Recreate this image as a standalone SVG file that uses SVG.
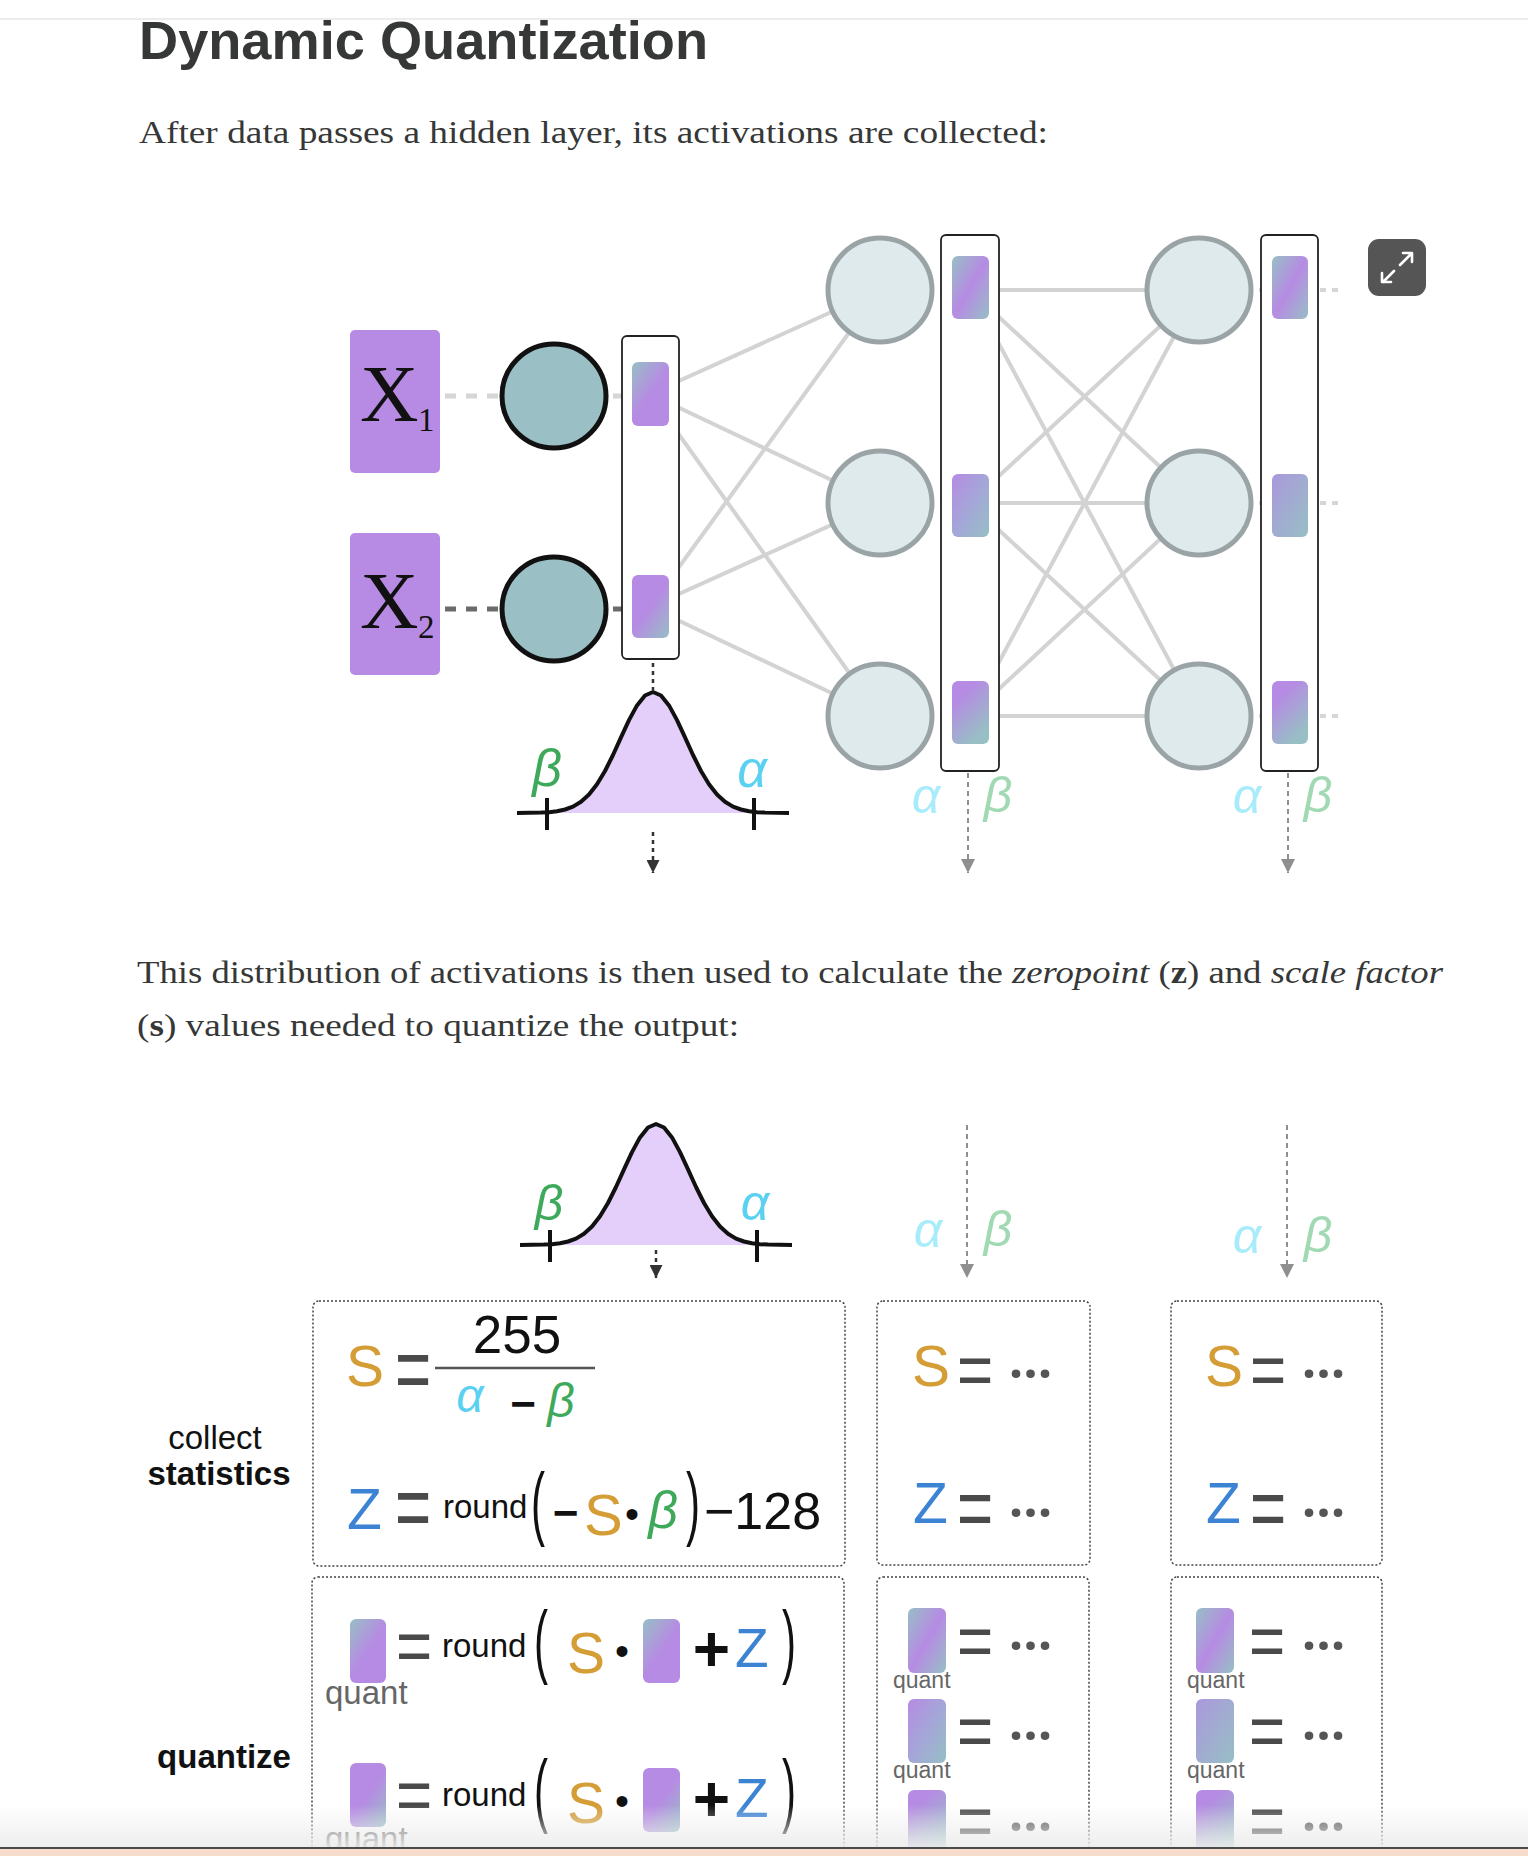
<svg xmlns="http://www.w3.org/2000/svg" width="1528" height="1856" viewBox="0 0 1528 1856">
<style>
.sans{font-family:"Liberation Sans",Arial,sans-serif}
.para{font-family:"Liberation Serif","Times New Roman",serif;font-size:31px;fill:#363737}
.conn{stroke:#d3d3d3;stroke-width:4;fill:none}
.dl{stroke:#d6d6d6;stroke-width:5;stroke-dasharray:11 10;fill:none}
.dd{stroke:#6b6b6b;stroke-width:5;stroke-dasharray:11 10;fill:none}
.ds{stroke:#d6d6d6;stroke-width:4;stroke-dasharray:6 6;fill:none}
.c1{fill:#9abfc4;stroke:#111;stroke-width:5}
.c2{fill:#dfeaec;stroke:#9aa4a6;stroke-width:5}
.col{fill:#fff;stroke:#222;stroke-width:1.8}
.xbox{fill:#b78be3}
.xt{font-family:"Liberation Serif","Times New Roman",serif;fill:#111}
.box{fill:none;stroke:#444;stroke-width:1.5;stroke-dasharray:2 2}
.S{fill:#d49d36;font-family:"Liberation Sans",Arial,sans-serif}
.Z{fill:#3d83d3;font-family:"Liberation Sans",Arial,sans-serif}
.gr{font-family:"Liberation Sans",Arial,sans-serif;font-style:italic}
.al{fill:#5bd1f2}
.be{fill:#3ea95b}
.al2{fill:#a8ecfb}
.be2{fill:#a0d9b2}
.eq{fill:#4a4a4a;font-family:"Liberation Sans",Arial,sans-serif;font-size:62px}
.dots{fill:#555;font-weight:bold;font-family:"Noto Sans","Liberation Sans",sans-serif;font-size:50px;letter-spacing:0.5px}
.blk{fill:#111;font-family:"Liberation Sans",Arial,sans-serif}
.par{fill:#111;font-family:"Liberation Sans",Arial,sans-serif;font-size:42px}
.q{fill:#666;font-family:"Liberation Sans",Arial,sans-serif}
.lbl{fill:#111;font-family:"Liberation Sans",Arial,sans-serif;font-size:33px;text-anchor:middle}
.arr{stroke:#333;stroke-width:2.5;stroke-dasharray:4 4;fill:none}
.arrg{stroke:#8f8f8f;stroke-width:2;stroke-dasharray:5 4;fill:none}
</style>
<defs>
<linearGradient id="gTP" x1="0" y1="0" x2="0.45" y2="0.55"><stop offset="0" stop-color="#97bfc5"/><stop offset="1" stop-color="#b68be3"/></linearGradient>
<linearGradient id="gPT" x1="0.55" y1="0.45" x2="1" y2="1"><stop offset="0" stop-color="#b68be3"/><stop offset="1" stop-color="#97bfc5"/></linearGradient>
<linearGradient id="gTPT" x1="0" y1="0" x2="1" y2="1"><stop offset="0" stop-color="#97bfc5"/><stop offset="0.5" stop-color="#b68be3"/><stop offset="1" stop-color="#97bfc5"/></linearGradient>
<linearGradient id="gPT2" x1="0" y1="0" x2="1" y2="1"><stop offset="0" stop-color="#b68be3"/><stop offset="0.5" stop-color="#a4a6d8"/><stop offset="1" stop-color="#97bfc5"/></linearGradient>
<linearGradient id="gLT" x1="0" y1="0" x2="1" y2="1"><stop offset="0" stop-color="#ab98dc"/><stop offset="1" stop-color="#97bfc5"/></linearGradient>
<linearGradient id="gPTv" x1="0.3" y1="0.2" x2="0.7" y2="0.9"><stop offset="0" stop-color="#b68be3"/><stop offset="1" stop-color="#97bfc5"/></linearGradient>
<linearGradient id="fade" x1="0" y1="0" x2="0" y2="1"><stop offset="0" stop-color="#ececec" stop-opacity="0"/><stop offset="1" stop-color="#ececec" stop-opacity="0.9"/></linearGradient>
<marker id="mk" viewBox="0 0 10 10" refX="10" refY="5" markerWidth="13" markerHeight="13" markerUnits="userSpaceOnUse" orient="auto"><path d="M0,0 L10,5 L0,10 z" fill="#333"/></marker>
<marker id="mkg" viewBox="0 0 10 10" refX="10" refY="5" markerWidth="14" markerHeight="14" markerUnits="userSpaceOnUse" orient="auto"><path d="M0,0 L10,5 L0,10 z" fill="#8f8f8f"/></marker>
<g id="bell">
<path d="M-108,121 L-104,120.2 L-96,119.2 L-88,117.5 L-80,114.6 L-72,109.8 L-64,102.6 L-56,92.3 L-48,79 L-40,63 L-32,45.4 L-24,28.1 L-16,13.4 L-8,3.5 L0,0 L8,3.5 L16,13.4 L24,28.1 L32,45.4 L40,63 L48,79 L56,92.3 L64,102.6 L72,109.8 L80,114.6 L88,117.5 L96,119.2 L104,120.2 L108,121 Z" fill="#e3cff9"/>
<path d="M-136,121 L-112,120.6 L-104,120.2 L-96,119.2 L-88,117.5 L-80,114.6 L-72,109.8 L-64,102.6 L-56,92.3 L-48,79 L-40,63 L-32,45.4 L-24,28.1 L-16,13.4 L-8,3.5 L0,0 L8,3.5 L16,13.4 L24,28.1 L32,45.4 L40,63 L48,79 L56,92.3 L64,102.6 L72,109.8 L80,114.6 L88,117.5 L96,119.2 L104,120.2 L112,120.6 L136,121" fill="none" stroke="#111" stroke-width="4" stroke-linejoin="round"/>
<path d="M-106,106 V138 M101,106 V138" stroke="#111" stroke-width="4"/>
</g>
</defs>
<rect width="1528" height="1856" fill="#fff"/>
<line x1="0" y1="19" x2="1528" y2="19" stroke="#e6e6e6" stroke-width="1.5"/>
<text class="sans" x="139" y="59" font-size="53" font-weight="bold" fill="#363737" textLength="569" lengthAdjust="spacingAndGlyphs">Dynamic Quantization</text>
<text class="para" x="139" y="143" textLength="909" lengthAdjust="spacingAndGlyphs">After data passes a hidden layer, its activations are collected:</text>

<g id="connectors">
<line class="dl" x1="445" y1="396" x2="622" y2="396"/>
<line class="dd" x1="445" y1="609" x2="622" y2="609"/>
<line class="conn" x1="650" y1="394" x2="880" y2="290"/>
<line class="conn" x1="650" y1="394" x2="880" y2="503"/>
<line class="conn" x1="650" y1="394" x2="880" y2="716"/>
<line class="conn" x1="650" y1="607" x2="880" y2="290"/>
<line class="conn" x1="650" y1="607" x2="880" y2="503"/>
<line class="conn" x1="650" y1="607" x2="880" y2="716"/>
<line class="conn" x1="970" y1="290" x2="1199" y2="290"/>
<line class="conn" x1="970" y1="290" x2="1199" y2="503"/>
<line class="conn" x1="970" y1="290" x2="1199" y2="716"/>
<line class="conn" x1="970" y1="503" x2="1199" y2="290"/>
<line class="conn" x1="970" y1="503" x2="1199" y2="503"/>
<line class="conn" x1="970" y1="503" x2="1199" y2="716"/>
<line class="conn" x1="970" y1="716" x2="1199" y2="290"/>
<line class="conn" x1="970" y1="716" x2="1199" y2="503"/>
<line class="conn" x1="970" y1="716" x2="1199" y2="716"/>
<path class="ds" d="M880,290 H942 M880,503 H942 M880,716 H942 M1199,290 H1262 M1199,503 H1262 M1199,716 H1262 M1320,290 H1344 M1320,503 H1344 M1320,716 H1344"/>
<line class="arr" x1="653" y1="663" x2="653" y2="690"/>
<line class="arr" x1="653" y1="832" x2="653" y2="873" marker-end="url(#mk)"/>
<line class="arrg" x1="968" y1="773" x2="968" y2="873" marker-end="url(#mkg)"/>
<line class="arrg" x1="1288" y1="773" x2="1288" y2="873" marker-end="url(#mkg)"/>
<line class="arr" x1="656" y1="1250" x2="656" y2="1278" marker-end="url(#mk)"/>
<line class="arrg" x1="967" y1="1125" x2="967" y2="1278" marker-end="url(#mkg)"/>
<line class="arrg" x1="1287" y1="1125" x2="1287" y2="1278" marker-end="url(#mkg)"/>
</g>

<g id="input-x1">
<rect class="xbox" x="350" y="330" width="90" height="143" rx="5"/>
<text class="xt" x="360" y="421" font-size="81">X</text>
<text class="xt" x="418" y="431" font-size="33">1</text>
</g>
<g id="input-x2">
<rect class="xbox" x="350" y="533" width="90" height="142" rx="5"/>
<text class="xt" x="360" y="628" font-size="81">X</text>
<text class="xt" x="418" y="638" font-size="33">2</text>
</g>
<g id="node-l1-1"><circle class="c1" cx="554" cy="396" r="52"/></g>
<g id="node-l1-2"><circle class="c1" cx="554" cy="609" r="52"/></g>
<g id="act-l1">
<rect class="col" x="622" y="336" width="57" height="323" rx="5"/>
<rect x="632" y="362" width="37" height="64" rx="6" fill="url(#gTP)"/>
<rect x="632" y="575" width="37" height="63" rx="6" fill="url(#gPT)"/>
</g>
<g id="node-l2-1"><circle class="c2" cx="880" cy="290" r="52"/></g>
<g id="node-l2-2"><circle class="c2" cx="880" cy="503" r="52"/></g>
<g id="node-l2-3"><circle class="c2" cx="880" cy="716" r="52"/></g>
<g id="act-l2">
<rect class="col" x="941" y="235" width="58" height="536" rx="5"/>
<rect x="952" y="256" width="37" height="63" rx="6" fill="url(#gTPT)"/>
<rect x="952" y="474" width="37" height="63" rx="6" fill="url(#gPT2)"/>
<rect x="952" y="681" width="37" height="63" rx="6" fill="url(#gPTv)"/>
</g>
<g id="node-l3-1"><circle class="c2" cx="1199" cy="290" r="52"/></g>
<g id="node-l3-2"><circle class="c2" cx="1199" cy="503" r="52"/></g>
<g id="node-l3-3"><circle class="c2" cx="1199" cy="716" r="52"/></g>
<g id="act-l3">
<rect class="col" x="1261" y="235" width="57" height="536" rx="5"/>
<rect x="1272" y="256" width="36" height="63" rx="6" fill="url(#gTPT)"/>
<rect x="1272" y="474" width="36" height="63" rx="6" fill="url(#gLT)"/>
<rect x="1272" y="681" width="36" height="63" rx="6" fill="url(#gPTv)"/>
</g>
<g id="expand-button">
<rect x="1368" y="239" width="58" height="57" rx="11" fill="#555"/>
<path d="M1400,265 L1411,254 M1403,253 H1412 V262 M1394,271 L1383,282 M1382,273 V282 H1391" stroke="#fff" stroke-width="2.6" fill="none" stroke-linecap="round" stroke-linejoin="round"/>
</g>

<g id="dist-1">
<use href="#bell" transform="translate(653,692)"/>
<text class="gr be" x="547" y="786" font-size="52" text-anchor="middle">β</text>
<text class="gr al" x="752" y="787" font-size="52" text-anchor="middle">α</text>
</g>
<g id="range-l2">
<text class="gr al2" x="926" y="813" font-size="50" text-anchor="middle">α</text>
<text class="gr be2" x="998" y="812" font-size="50" text-anchor="middle">β</text>
</g>
<g id="range-l3">
<text class="gr al2" x="1247" y="813" font-size="50" text-anchor="middle">α</text>
<text class="gr be2" x="1318" y="812" font-size="50" text-anchor="middle">β</text>
</g>

<text class="para" x="137" y="983" textLength="1306" lengthAdjust="spacingAndGlyphs">This distribution of activations is then used to calculate the <tspan font-style="italic">zeropoint</tspan> (<tspan font-weight="bold">z</tspan>) and <tspan font-style="italic">scale factor</tspan></text>
<text class="para" x="137" y="1036" textLength="602" lengthAdjust="spacingAndGlyphs">(<tspan font-weight="bold">s</tspan>) values needed to quantize the output:</text>

<g id="dist-2">
<use href="#bell" transform="translate(656,1124)"/>
<text class="gr be" x="549" y="1220" font-size="50" text-anchor="middle">β</text>
<text class="gr al" x="755" y="1220" font-size="50" text-anchor="middle">α</text>
</g>
<g id="range2-l2">
<text class="gr al2" x="928" y="1247" font-size="50" text-anchor="middle">α</text>
<text class="gr be2" x="998" y="1246" font-size="50" text-anchor="middle">β</text>
</g>
<g id="range2-l3">
<text class="gr al2" x="1247" y="1253" font-size="50" text-anchor="middle">α</text>
<text class="gr be2" x="1318" y="1252" font-size="50" text-anchor="middle">β</text>
</g>

<g id="label-collect">
<text class="lbl" x="215" y="1449">collect</text>
<text class="lbl" x="219" y="1485" font-weight="bold">statistics</text>
</g>
<g id="label-quantize">
<text class="lbl" x="224" y="1768" font-weight="bold">quantize</text>
</g>

<g id="stats-l1">
<rect class="box" x="313" y="1301" width="532" height="265" rx="6"/>
<text class="S" x="346" y="1386" font-size="57">S</text>
<text class="eq" transform="translate(395,1401) scale(1,1.5)">=</text>
<line x1="435" y1="1368" x2="595" y2="1368" stroke="#555" stroke-width="2.5"/>
<text class="blk" x="517" y="1353" font-size="53" text-anchor="middle">255</text>
<text class="gr al" x="470" y="1412" font-size="48" text-anchor="middle">α</text>
<text class="blk" x="523" y="1419" font-size="44" font-weight="bold" text-anchor="middle">−</text>
<text class="gr be" x="561" y="1417" font-size="48" text-anchor="middle">β</text>
<text class="Z" x="347" y="1529" font-size="57">Z</text>
<text class="eq" transform="translate(395,1539) scale(1,1.5)">=</text>
<text class="blk" x="443" y="1518" font-size="33">round</text>
<text class="par" transform="translate(531,1530) scale(1,1.95)">(</text>
<text class="blk" x="565.5" y="1528" font-size="44" font-weight="bold" text-anchor="middle">−</text>
<text class="S" x="584" y="1535" font-size="58">S</text>
<text class="blk" x="632" y="1528" font-size="40" text-anchor="middle">•</text>
<text class="gr be" x="663" y="1528" font-size="52" text-anchor="middle">β</text>
<text class="par" transform="translate(686,1530) scale(1,1.95)">)</text>
<text class="blk" x="704" y="1529" font-size="52">−128</text>
</g>
<g id="stats-l2">
<rect class="box" x="877" y="1301" width="213" height="264" rx="6"/>
<text class="S" x="912" y="1386" font-size="57">S</text>
<text class="eq" transform="translate(957,1396) scale(1,1.22)">=</text>
<text class="dots" x="1009" y="1392">···</text>
<text class="Z" x="913" y="1523" font-size="57">Z</text>
<text class="eq" transform="translate(957,1538) scale(1,1.4)">=</text>
<text class="dots" x="1009" y="1531">···</text>
</g>
<g id="stats-l3">
<rect class="box" x="1171" y="1301" width="211" height="264" rx="6"/>
<text class="S" x="1205" y="1386" font-size="57">S</text>
<text class="eq" transform="translate(1250,1396) scale(1,1.22)">=</text>
<text class="dots" x="1302" y="1392">···</text>
<text class="Z" x="1206" y="1523" font-size="57">Z</text>
<text class="eq" transform="translate(1250,1538) scale(1,1.4)">=</text>
<text class="dots" x="1302" y="1531">···</text>
</g>

<g id="quant-l1">
<rect class="box" x="312" y="1577" width="532" height="330" rx="6"/>
<rect x="350" y="1619" width="36" height="64" rx="6" fill="url(#gTP)"/>
<text class="eq" transform="translate(396,1672) scale(1,1.22)">=</text>
<text class="blk" x="442" y="1657" font-size="33">round</text>
<text class="par" transform="translate(534,1668) scale(1,1.95)">(</text>
<text class="S" x="567" y="1673" font-size="57">S</text>
<text class="blk" x="622" y="1665" font-size="40" text-anchor="middle">•</text>
<rect x="643" y="1619" width="37" height="64" rx="6" fill="url(#gTP)"/>
<text class="blk" x="711.5" y="1671" font-size="64" font-weight="bold" text-anchor="middle">+</text>
<text class="Z" x="735" y="1667" font-size="55">Z</text>
<text class="par" transform="translate(782,1668) scale(1,1.95)">)</text>
<text class="q" x="325" y="1704" font-size="33">quant</text>
<rect x="350" y="1763" width="36" height="64" rx="6" fill="url(#gPT)"/>
<text class="eq" transform="translate(396,1821) scale(1,1.22)">=</text>
<text class="blk" x="442" y="1806" font-size="33">round</text>
<text class="par" transform="translate(534,1817) scale(1,1.95)">(</text>
<text class="S" x="567" y="1823" font-size="57">S</text>
<text class="blk" x="622" y="1815" font-size="40" text-anchor="middle">•</text>
<rect x="643" y="1768" width="37" height="64" rx="6" fill="url(#gPT)"/>
<text class="blk" x="711.5" y="1821" font-size="64" font-weight="bold" text-anchor="middle">+</text>
<text class="Z" x="735" y="1817" font-size="55">Z</text>
<text class="par" transform="translate(782,1817) scale(1,1.95)">)</text>
<text class="q" x="325" y="1850" font-size="33">quant</text>
</g>
<g id="quant-l2">
<rect class="box" x="877" y="1577" width="212" height="330" rx="6"/>
<rect x="908" y="1608" width="38" height="65" rx="6" fill="url(#gTPT)"/>
<text class="eq" transform="translate(957,1667) scale(1,1.22)">=</text>
<text class="dots" x="1009" y="1664">···</text>
<text class="q" x="893" y="1688" font-size="23">quant</text>
<rect x="908" y="1699" width="38" height="64" rx="6" fill="url(#gPT2)"/>
<text class="eq" transform="translate(957,1757) scale(1,1.22)">=</text>
<text class="dots" x="1009" y="1754">···</text>
<text class="q" x="893" y="1778" font-size="23">quant</text>
<rect x="908" y="1790" width="38" height="64" rx="6" fill="url(#gPTv)"/>
<text class="eq" transform="translate(957,1847) scale(1,1.22)">=</text>
<text class="dots" x="1009" y="1845">···</text>
</g>
<g id="quant-l3">
<rect class="box" x="1171" y="1577" width="211" height="330" rx="6"/>
<rect x="1196" y="1608" width="38" height="65" rx="6" fill="url(#gTPT)"/>
<text class="eq" transform="translate(1249,1667) scale(1,1.22)">=</text>
<text class="dots" x="1302" y="1664">···</text>
<text class="q" x="1187" y="1688" font-size="23">quant</text>
<rect x="1196" y="1699" width="38" height="64" rx="6" fill="url(#gLT)"/>
<text class="eq" transform="translate(1249,1757) scale(1,1.22)">=</text>
<text class="dots" x="1302" y="1754">···</text>
<text class="q" x="1187" y="1778" font-size="23">quant</text>
<rect x="1196" y="1790" width="38" height="64" rx="6" fill="url(#gPTv)"/>
<text class="eq" transform="translate(1249,1847) scale(1,1.22)">=</text>
<text class="dots" x="1302" y="1845">···</text>
</g>

<rect x="0" y="1805" width="1528" height="42" fill="url(#fade)"/>
<rect x="0" y="1847" width="1528" height="2" fill="#4a4a4a"/>
<rect x="0" y="1849" width="1528" height="7" fill="#f8dccb"/>
</svg>
